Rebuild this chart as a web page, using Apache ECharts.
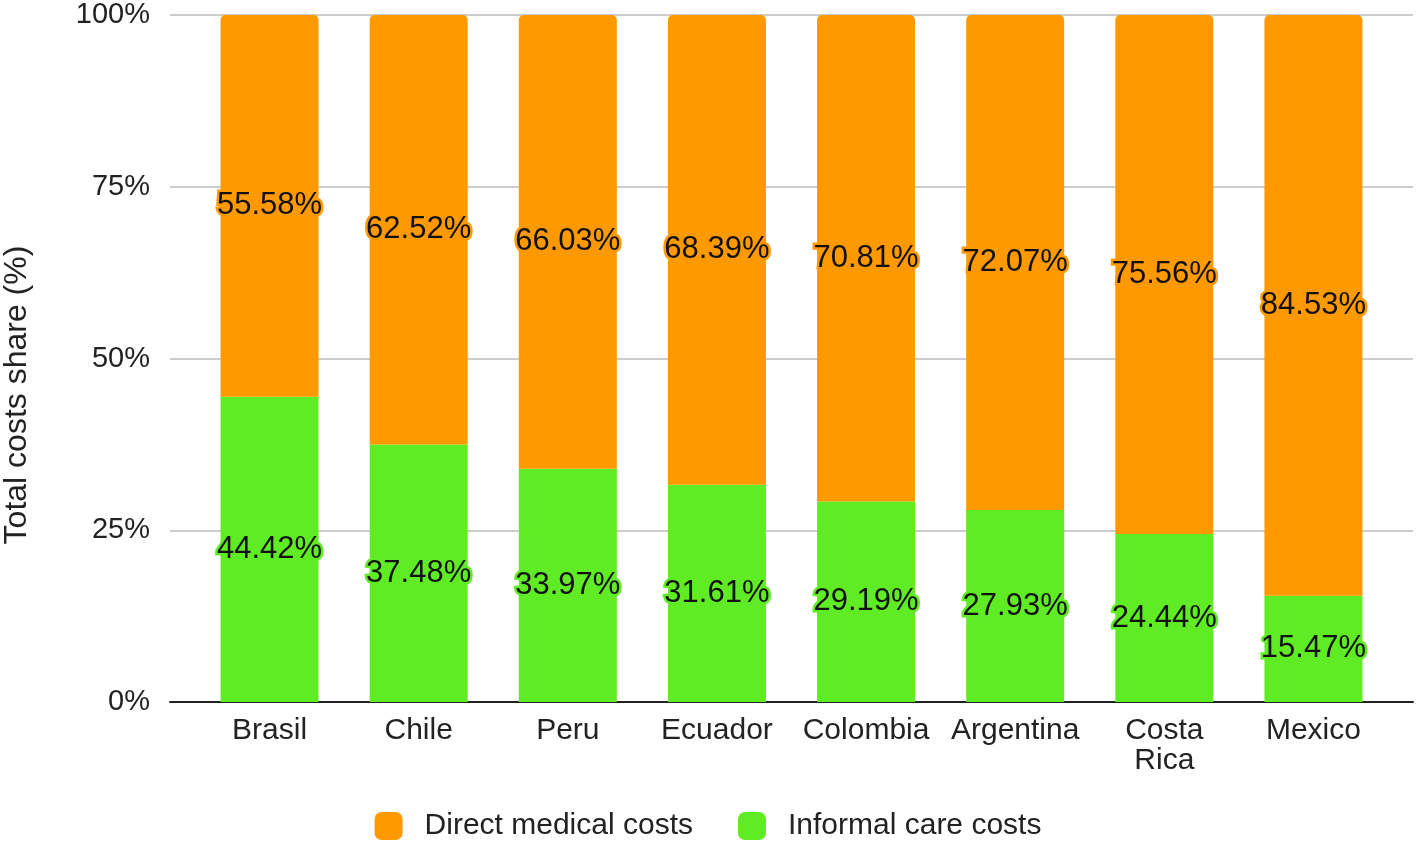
<!DOCTYPE html>
<html>
<head>
<meta charset="utf-8">
<script src="https://cdn.jsdelivr.net/npm/echarts@6/dist/echarts.min.js"></script>
<style>
  html, body { margin: 0; padding: 0; background: #fff; }
  #chart { width: 1416px; height: 845px; }
</style>
</head>
<body>
<div id="chart"></div>
<script>
const countries = ['Brasil', 'Chile', 'Peru', 'Ecuador', 'Colombia', 'Argentina', 'Costa Rica', 'Mexico']
const informalCare = [44.42, 37.48, 33.97, 31.61, 29.19, 27.93, 24.44, 15.47]
const directMedical = [55.58, 62.52, 66.03, 68.39, 70.81, 72.07, 75.56, 84.53]
const yTicks = [0, 25, 50, 75, 100]

const ORANGE = '#ff9900'
const GREEN = '#60ec24'
const FONT = '"Liberation Sans", Arial, sans-serif'

const chart = echarts.init(document.getElementById('chart'))

const segLabel = (color) => ({
  show: true,
  position: 'inside',
  formatter: p => p.value.toFixed(2) + '%',
  color: '#111',
  fontSize: 31,
  fontFamily: FONT,
  textBorderColor: color,
  textBorderWidth: 5
})

const option = {
  animation: false,
  textStyle: { fontFamily: FONT },
  grid: [
    // background grid: full-width gridlines and baseline
    { left: 170, right: 3, top: 15, bottom: 143, outerBoundsMode: 'none' },
    // bars
    { left: 195, right: 28, top: 15, bottom: 143, outerBoundsMode: 'none' }
  ],
  xAxis: [
    {
      gridIndex: 0,
      type: 'value',
      min: 0,
      max: 1,
      axisLine: { show: true, lineStyle: { color: '#222', width: 2 } },
      axisTick: { show: false },
      axisLabel: { show: false },
      splitLine: { show: false }
    },
    {
      gridIndex: 1,
      type: 'category',
      data: countries,
      axisLine: { show: false },
      axisTick: { show: false },
      axisLabel: {
        color: '#222',
        fontSize: 30,
        lineHeight: 30,
        margin: 14,
        interval: 0,
        formatter: v => v.split(' ').join('\n')
      }
    }
  ],
  yAxis: [
    {
      gridIndex: 0,
      type: 'value',
      min: yTicks[0],
      max: yTicks[yTicks.length - 1],
      interval: 25,
      name: 'Total costs share (%)',
      nameLocation: 'middle',
      nameGap: 137,
      nameRotate: 90,
      nameTextStyle: { color: '#222', fontSize: 32, padding: [0, 73, 0, 0] },
      axisLine: { show: false },
      axisTick: { show: false },
      axisLabel: { color: '#222', fontSize: 29, margin: 20, formatter: '{value}%' },
      splitLine: { lineStyle: { color: '#cccccc', width: 2 } }
    },
    {
      gridIndex: 1,
      type: 'value',
      min: 0,
      max: 100,
      show: false
    }
  ],
  legend: {
    left: 'center',
    top: 806,
    icon: 'roundRect',
    itemWidth: 28,
    itemHeight: 28,
    itemGap: 45,
    textStyle: { color: '#222', fontSize: 30, padding: [0, 0, 0, 17] },
    data: ['Direct medical costs', 'Informal care costs']
  },
  series: [
    {
      name: 'Informal care costs',
      type: 'bar',
      stack: 'total',
      xAxisIndex: 1,
      yAxisIndex: 1,
      barWidth: 98,
      itemStyle: { color: GREEN },
      label: segLabel(GREEN),
      data: informalCare
    },
    {
      name: 'Direct medical costs',
      type: 'bar',
      stack: 'total',
      xAxisIndex: 1,
      yAxisIndex: 1,
      barWidth: 98,
      itemStyle: { color: ORANGE, borderRadius: [5, 5, 0, 0] },
      label: segLabel(ORANGE),
      data: directMedical
    }
  ]
}

chart.setOption(option)
</script>
</body>
</html>
